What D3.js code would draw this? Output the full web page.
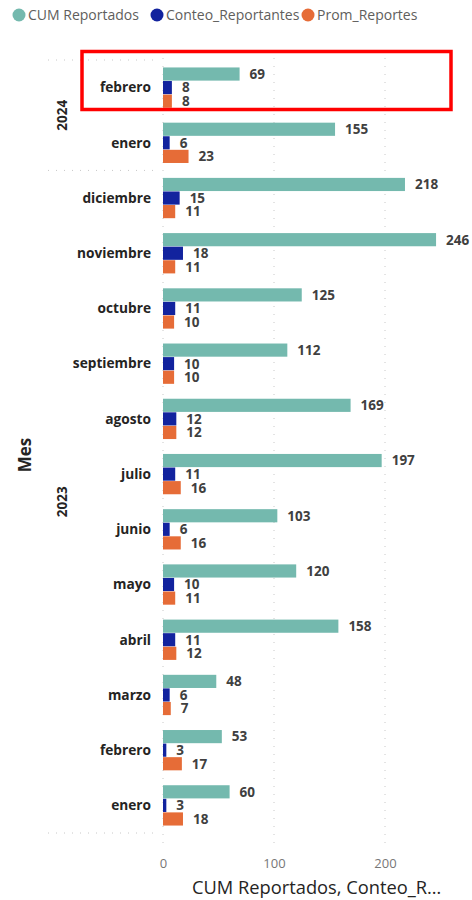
<!DOCTYPE html>
<html>
<head>
<meta charset="utf-8">
<script src="https://cdn.jsdelivr.net/npm/d3@7"></script>
<style>
  body { margin: 0; background: #fff; }
  svg { font-family: "Segoe UI", "Open Sans", sans-serif; }
</style>
</head>
<body>
<svg id="chart" width="472" height="900"></svg>
<script>
// data
var years = ["2024", "2024", "2023", "2023", "2023", "2023", "2023", "2023", "2023", "2023", "2023", "2023", "2023", "2023"];
var months = ["febrero", "enero", "diciembre", "noviembre", "octubre", "septiembre", "agosto", "julio", "junio", "mayo", "abril", "marzo", "febrero", "enero"];
var cumReportados = [69, 155, 218, 246, 125, 112, 169, 197, 103, 120, 158, 48, 53, 60];
var conteoReportantes = [8, 6, 15, 18, 11, 10, 12, 11, 6, 10, 11, 6, 3, 3];
var promReportes = [8, 23, 11, 11, 10, 10, 12, 16, 16, 11, 12, 7, 17, 18];
var seriesNames = ["CUM Reportados", "Conteo_Reportantes", "Prom_Reportes"];
var seriesColors = ["#74B9AE", "#12239E", "#E66C37"];
var xTicks = [0, 100, 200];

var svg = d3.select("#chart");

var rows = months.map(function(m, i) {
  return {
    key: years[i] + "-" + m,
    year: years[i],
    month: m,
    values: [cumReportados[i], conteoReportantes[i], promReportes[i]]
  };
});

var x = d3.scaleLinear().domain([0, 260]).range([163, 451.6]);
var y = d3
  .scaleBand()
  .domain(rows.map(function(d) { return d.key; }))
  .range([60, 833])
  .paddingInner(0.27)
  .paddingOuter(0.135);
var ySub = d3
  .scaleBand()
  .domain(d3.range(seriesNames.length))
  .range([0, y.bandwidth()])
  .paddingInner(0.03);

// legend
var legendX = [19, 157, 308];
var legend = svg
  .append("g")
  .selectAll("g")
  .data(seriesNames)
  .enter()
  .append("g");
legend
  .append("circle")
  .attr("cx", function(d, i) { return legendX[i]; })
  .attr("cy", 15)
  .attr("r", 6.5)
  .attr("fill", function(d, i) { return seriesColors[i]; });
legend
  .append("text")
  .attr("x", function(d, i) { return legendX[i] + 9; })
  .attr("y", 20)
  .attr("font-size", 14)
  .attr("fill", "#605E5C")
  .text(function(d) { return d; });

// vertical dotted gridlines
svg
  .append("g")
  .selectAll("line")
  .data(xTicks)
  .enter()
  .append("line")
  .attr("x1", function(d) { return x(d); })
  .attr("x2", function(d) { return x(d); })
  .attr("y1", 58)
  .attr("y2", 848)
  .attr("stroke", "#C8C8C8")
  .attr("stroke-width", 1)
  .attr("stroke-dasharray", "1,7");

// year group separators
var yearGroups = d3.groups(rows, function(d) { return d.year; });
var sepYs = [y.range()[0]];
yearGroups.forEach(function(g) {
  var last = g[1][g[1].length - 1];
  sepYs.push(y(last.key) + y.bandwidth() + (y.step() - y.bandwidth()) / 2);
});
svg
  .append("g")
  .selectAll("line")
  .data(sepYs)
  .enter()
  .append("line")
  .attr("x1", 48)
  .attr("x2", 157)
  .attr("y1", function(d) { return d; })
  .attr("y2", function(d) { return d; })
  .attr("stroke", "#C8C8C8")
  .attr("stroke-dasharray", "1,7");

// year labels
svg
  .append("g")
  .selectAll("text")
  .data(yearGroups)
  .enter()
  .append("text")
  .attr("transform", function(g) {
    var first = g[1][0], last = g[1][g[1].length - 1];
    var cy = (y(first.key) + y(last.key) + y.bandwidth()) / 2;
    return "translate(67," + cy + ") rotate(-90)";
  })
  .attr("text-anchor", "middle")
  .attr("font-size", 13.5)
  .attr("font-weight", "bold")
  .attr("fill", "#252423")
  .text(function(g) { return g[0]; });

// month labels
svg
  .append("g")
  .selectAll("text")
  .data(rows)
  .enter()
  .append("text")
  .attr("x", 151)
  .attr("y", function(d) { return y(d.key) + y.bandwidth() / 2; })
  .attr("dy", "0.35em")
  .attr("text-anchor", "end")
  .attr("font-size", 13.7)
  .attr("font-weight", "bold")
  .attr("fill", "#252423")
  .text(function(d) { return d.month; });

// bars
var groups = svg
  .append("g")
  .selectAll("g")
  .data(rows)
  .enter()
  .append("g")
  .attr("transform", function(d) { return "translate(0," + y(d.key) + ")"; });

groups
  .selectAll("rect")
  .data(function(d) { return d.values; })
  .enter()
  .append("rect")
  .attr("x", x(0))
  .attr("y", function(d, i) { return ySub(i); })
  .attr("width", function(d) { return x(d) - x(0); })
  .attr("height", ySub.bandwidth())
  .attr("fill", function(d, i) { return seriesColors[i]; });

// data labels, a bit tighter so stacked labels collide less
groups
  .selectAll("text")
  .data(function(d) { return d.values; })
  .enter()
  .append("text")
  .attr("x", function(d) { return x(d) + 10; })
  .attr("y", function(d, i) { return ySub(i) + ySub.bandwidth() / 2; })
  .attr("dy", "0.36em")
  .attr("font-size", 13.5)
  .attr("font-weight", "bold")
  .attr("fill", "#404040")
  .text(function(d) { return d; });

// x axis
var xAxis = svg
  .append("g")
  .attr("transform", "translate(0,852)")
  .call(d3.axisBottom(x).tickValues(xTicks).tickSize(0).tickPadding(7));
xAxis.select(".domain").remove();
xAxis
  .selectAll("text")
  .attr("font-size", 13)
  .attr("fill", "#777")
  .attr("font-family", "\"Segoe UI\", \"Open Sans\", sans-serif");

svg
  .append("text")
  .attr("x", 192)
  .attr("y", 894)
  .attr("font-size", 18.3)
  .attr("fill", "#252423")
  .text("CUM Reportados, Conteo_R…");

svg
  .append("text")
  .attr("transform", "translate(31,455) rotate(-90)")
  .attr("text-anchor", "middle")
  .attr("font-size", 17)
  .attr("font-weight", "bold")
  .attr("fill", "#252423")
  .text("Mes");

// red highlight box
svg
  .append("rect")
  .attr("x", 82)
  .attr("y", 51.5)
  .attr("width", 369)
  .attr("height", 58)
  .attr("fill", "none")
  .attr("stroke", "#FF0000")
  .attr("stroke-width", 3.5);
</script>
</body>
</html>
